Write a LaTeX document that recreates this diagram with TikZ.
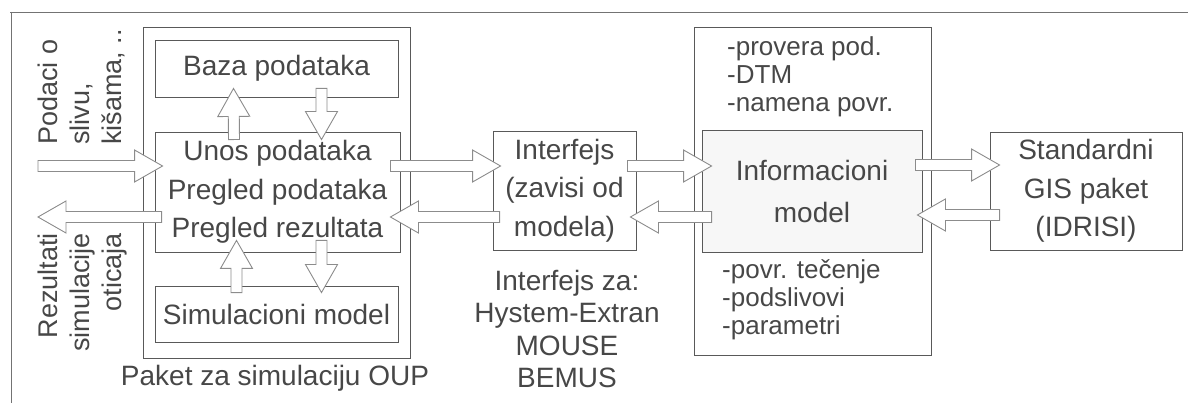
\documentclass[tikz,border=0pt]{standalone}
\usepackage{fontspec}
\setmainfont{Liberation Sans}
\usetikzlibrary{calc}
\tikzset{
  box/.style={draw=black!65, line width=0.9pt, inner sep=0pt, text=black!72, align=center,
              font=\fontsize{28}{38.5}\selectfont},
  lbl/.style={inner sep=0pt, text=black!72},
  arrowline/.style={draw=black!45, line width=0.9pt, fill=white, line join=miter},
  frameline/.style={draw=black!55, line width=0.9pt}
}
\newcommand\barrow[2]{%
  \coordinate (bh) at ($(#2)!28pt!(#1)$);
  \draw[arrowline] ($(#1)!5.5pt!90:(#2)$) -- ($(bh)!5.5pt!90:(#2)$) -- ($(bh)!16pt!90:(#2)$)
     -- (#2) -- ($(bh)!16pt!-90:(#2)$) -- ($(bh)!5.5pt!-90:(#2)$) -- ($(#1)!5.5pt!-90:(#2)$) -- cycle;}
\begin{document}
\begin{tikzpicture}[x=1pt,y=-1pt]
\useasboundingbox (0,0) rectangle (1188,403);
% frame
\draw[frameline] (10,12) -- (1188,12);
\draw[frameline] (11,12) -- (11,403);
% OUP package
\node[box, minimum width=267pt, minimum height=331pt] (oup) at (276.5,192.5) {};
\node[box, minimum width=243pt, minimum height=57pt] (baza) at (276.5,68.5) {Baza podataka};
\node[box, minimum width=245pt, minimum height=120pt] (unos) at (277.5,192) {Unos podataka\\Pregled podataka\\Pregled rezultata};
\node[box, minimum width=243pt, minimum height=56pt] (sim) at (276.5,314) {Simulacioni model};
\node[lbl, font=\fontsize{28}{32}\selectfont] (paket) at (275,378) {Paket za simulaciju OUP};
% interface
\node[box, minimum width=143pt, minimum height=119pt] (intf) at (564.5,190.5) {Interfejs\\(zavisi od\\modela)};
\node[lbl, align=center, font=\fontsize{28}{32.6}\selectfont] (intfza) at (567,329) {Interfejs za:\\Hystem-Extran\\MOUSE\\BEMUS};
% information model
\node[box, minimum width=237pt, minimum height=328pt] (infoout) at (812.5,191) {};
\node[box, fill=black!3, minimum width=220pt, minimum height=122pt, font=\fontsize{28}{42}\selectfont] (info) at (812,191) {Informacioni\\model};
\node[lbl, anchor=west, align=left, font=\fontsize{26}{28}\selectfont] (listtop) at (727,77) {-provera pod.\\-DTM\\-namena povr.};
\node[lbl, anchor=west, align=left, font=\fontsize{26}{28}\selectfont] (listbot) at (722,300) {-povr. tečenje\\-podslivovi\\-parametri};
% GIS
\node[box, minimum width=192pt, minimum height=118pt] (gis) at (1086,191) {Standardni\\GIS paket\\(IDRISI)};
% rotated labels
\node[lbl, rotate=90, anchor=north west, align=left, font=\fontsize{27}{32}\selectfont] (podaci) at (38,145) {Podaci o\\slivu,\\kišama, ..};
\node[lbl, rotate=90, anchor=north east, align=right, font=\fontsize{27}{32}\selectfont] (rez) at (38,233) {Rezultati\\simulacije\\oticaja};
% rows
\coordinate (rowA) at (0,166);
\coordinate (rowB) at (0,217);
% arrow end points
\coordinate (a1s) at (38,166);
\coordinate (a1e) at ($(unos.west|-rowA)+(8,0)$);
\coordinate (a2s) at ($(unos.west|-rowB)+(7,0)$);
\coordinate (a2e) at (38,217);
\coordinate (a3s) at ($(unos.east|-rowA)+(-10,0)$);
\coordinate (a3e) at ($(intf.west|-rowA)+(8,0)$);
\coordinate (a4s) at ($(intf.west|-rowB)+(7,0)$);
\coordinate (a4e) at ($(unos.east|-rowB)+(-10,0)$);
\coordinate (a5s) at ($(intf.east|-rowA)+(-9,0)$);
\coordinate (a5e) at ($(info.west|-rowA)+(10,0)$);
\coordinate (a6s) at ($(info.west|-rowB)+(10,0)$);
\coordinate (a6e) at ($(intf.east|-rowB)+(-6,0)$);
\coordinate (a7s) at ($(info.east|-rowA)+(-7,-1)$);
\coordinate (a7e) at ($(gis.west|-rowA)+(10,-1)$);
\coordinate (a8s) at ($(gis.west|-rowB)+(10,-2)$);
\coordinate (a8e) at ($(info.east|-rowB)+(-5,-2)$);
\coordinate (a9s) at ($(unos.north)+(-43.5,8)$);
\coordinate (a9e) at ($(baza.south)+(-43,-9)$);
\coordinate (a10s) at ($(baza.south)+(45,-9)$);
\coordinate (a10e) at ($(unos.north)+(44,8)$);
\coordinate (a11s) at ($(sim.north)+(-40,7)$);
\coordinate (a11e) at ($(unos.south)+(-41,-12)$);
\coordinate (a12s) at ($(unos.south)+(44,-12)$);
\coordinate (a12e) at ($(sim.north)+(45,7)$);
\barrow{a1s}{a1e}
\barrow{a2s}{a2e}
\barrow{a3s}{a3e}
\barrow{a4s}{a4e}
\barrow{a5s}{a5e}
\barrow{a6s}{a6e}
\barrow{a7s}{a7e}
\barrow{a8s}{a8e}
\barrow{a9s}{a9e}
\barrow{a10s}{a10e}
\barrow{a11s}{a11e}
\barrow{a12s}{a12e}
\end{tikzpicture}
\end{document}
